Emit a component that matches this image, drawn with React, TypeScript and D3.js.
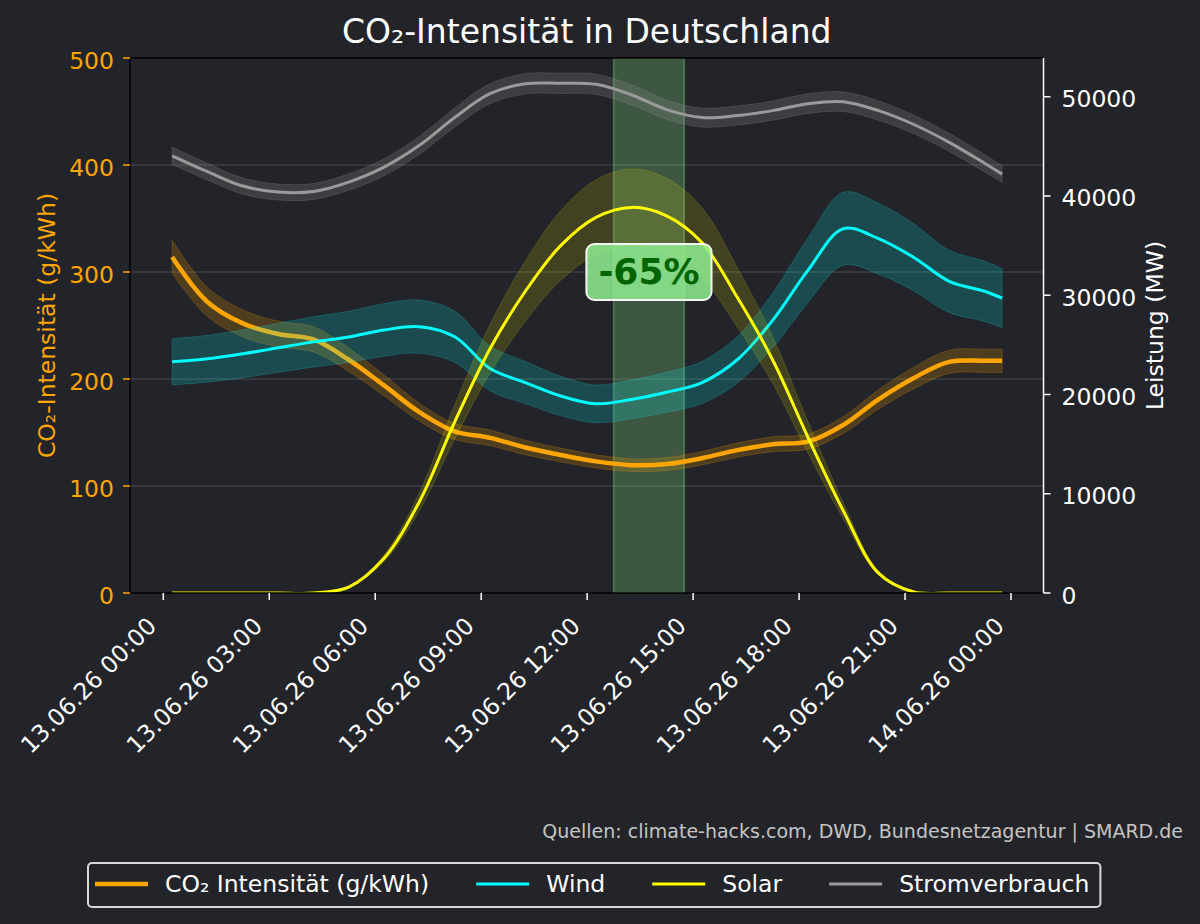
import { useEffect, useRef } from "react";
import * as d3 from "d3";

const BG = "#232429";
const FONT = "'DejaVu Sans', sans-serif";

// hours since 13.06.26 00:00
const hours = [0.25, 1.25, 2.25, 3.25, 4.25, 5.25, 6.25, 7.25, 8.25, 9.25, 10.25, 11.25, 12.25, 13.25, 14.25, 15.25, 16.25, 17.25, 18.25, 19.25, 20.25, 21.25, 22.25, 23.25, 23.75];
const co2 = [314, 272, 252, 242, 237, 218, 194, 169, 151, 145, 136, 129, 123, 119.5, 120.5, 126, 133.5, 139, 141.5, 157, 181, 201, 216, 217, 217];
const wind = [23290, 23600, 24100, 24700, 25300, 25800, 26500, 26830, 25820, 22620, 21200, 19850, 19060, 19500, 20230, 21200, 23500, 27460, 32500, 36700, 35700, 33800, 31400, 30400, 29700];
const solar = [0, 0, 0, 0, 0, 600, 3500, 9200, 17230, 24600, 30400, 35000, 37850, 38850, 38000, 35300, 29800, 23500, 15700, 8300, 2000, 100, 0, 0, 0];
const load = [44050, 42450, 41000, 40400, 40450, 41400, 42900, 45100, 47900, 50300, 51300, 51350, 51250, 50200, 48700, 47900, 48100, 48600, 49300, 49500, 48600, 47200, 45400, 43300, 42200];

// relative spread of the shaded bands
const co2Spread = 0.05;
const windSpread = 0.1;
const solarSpread = 0.1;
const loadSpread = 0.02;

const xTickHours = [0, 3, 6, 9, 12, 15, 18, 21, 24];
const xTickLabels = ["13.06.26 00:00", "13.06.26 03:00", "13.06.26 06:00", "13.06.26 09:00", "13.06.26 12:00", "13.06.26 15:00", "13.06.26 18:00", "13.06.26 21:00", "14.06.26 00:00"];
const leftTicks = [0, 100, 200, 300, 400, 500];
const rightTicks = [0, 10000, 20000, 30000, 40000, 50000];

const lowCo2Window = [12.75, 14.75];
const reductionLabel = "-65%";
const reductionAt = 300;

const legendLabels = ["CO₂ Intensität (g/kWh)", "Wind", "Solar", "Stromverbrauch"];

export default function App() {
  const svgRef = useRef<SVGSVGElement>(null);

  useEffect(() => {
    document.body.style.margin = "0";
    document.body.style.background = BG;
    if (!svgRef.current) return;
    const svg = d3.select(svgRef.current);
    svg.selectAll("*").remove();

    const width = 1200;
    const height = 924;
    const plot = { left: 130, right: 1043.5, top: 58, bottom: 593 };
    const fs = 23.5;

    const x = d3.scaleLinear().domain([-0.943, 24.92]).range([plot.left, plot.right]);
    const yL = d3.scaleLinear().domain([0, 500]).range([plot.bottom, plot.top]);
    const yR = d3.scaleLinear().domain([0, 53900]).range([plot.bottom, plot.top]);

    svg.attr("viewBox", `0 0 ${width} ${height}`).attr("font-family", FONT);
    svg.append("rect").attr("width", width).attr("height", height).attr("fill", BG);

    svg.append("defs").append("clipPath").attr("id", "plot-clip")
      .append("rect")
      .attr("x", plot.left).attr("y", plot.top)
      .attr("width", plot.right - plot.left).attr("height", plot.bottom - plot.top);

    // grid
    svg.append("g").selectAll("line")
      .data(leftTicks.filter((v) => v > 0 && v < 500))
      .join("line")
      .attr("x1", plot.left).attr("x2", plot.right)
      .attr("y1", (d) => yL(d)).attr("y2", (d) => yL(d))
      .attr("stroke", "#8a8a8a").attr("stroke-opacity", 0.38).attr("stroke-width", 1.2);

    const g = svg.append("g").attr("clip-path", "url(#plot-clip)");

    // low-CO2 window
    g.append("rect")
      .attr("x", x(lowCo2Window[0])).attr("y", plot.top)
      .attr("width", x(lowCo2Window[1]) - x(lowCo2Window[0]))
      .attr("height", plot.bottom - plot.top)
      .attr("fill", "#90ee90").attr("fill-opacity", 0.25)
      .attr("stroke", "#90ee90").attr("stroke-opacity", 0.35).attr("stroke-width", 1.5);

    const series = [
      { values: co2, spread: co2Spread, y: yL, color: "#ffa500", width: 4.5, bandAlpha: 0.2 },
      { values: wind, spread: windSpread, y: yR, color: "#00ffff", width: 3, bandAlpha: 0.18 },
      { values: solar, spread: solarSpread, y: yR, color: "#ffff00", width: 3, bandAlpha: 0.14 },
      { values: load, spread: loadSpread, y: yR, color: "#9a9a9a", width: 3, bandAlpha: 0.22 },
    ];

    series.forEach((s) => {
      const pts = hours.map((h, i) => ({ h, v: s.values[i] }));
      const band = d3.area<{ h: number; v: number }>()
        .x((d) => x(d.h))
        .y0((d) => s.y(d.v * (1 - s.spread)))
        .y1((d) => s.y(d.v * (1 + s.spread)))
        .curve(d3.curveCatmullRom);
      g.append("path").datum(pts).attr("d", band)
        .attr("fill", s.color).attr("fill-opacity", s.bandAlpha)
        .attr("stroke", s.color).attr("stroke-opacity", s.bandAlpha).attr("stroke-width", 1);
      const line = d3.line<{ h: number; v: number }>()
        .x((d) => x(d.h))
        .y((d) => s.y(d.v))
        .curve(d3.curveCatmullRom);
      g.append("path").datum(pts).attr("d", line)
        .attr("fill", "none").attr("stroke", s.color)
        .attr("stroke-width", s.width).attr("stroke-linejoin", "round");
    });

    // annotation box
    const ann = svg.append("g");
    const cx = x((lowCo2Window[0] + lowCo2Window[1]) / 2);
    const cy = yL(reductionAt);
    const annText = ann.append("text")
      .attr("x", cx).attr("y", cy + 12)
      .attr("text-anchor", "middle")
      .attr("font-size", 36).attr("font-weight", "bold")
      .attr("fill", "#006400")
      .text(reductionLabel);
    const tw = (annText.node() as SVGTextElement).getComputedTextLength();
    ann.insert("rect", "text")
      .attr("x", cx - tw / 2 - 12).attr("y", cy - 28)
      .attr("width", tw + 24).attr("height", 56)
      .attr("rx", 8)
      .attr("fill", "#90ee90").attr("fill-opacity", 0.85)
      .attr("stroke", "#f4f4f4").attr("stroke-width", 2);

    // spines
    const sp = svg.append("g");
    sp.append("line").attr("x1", plot.left).attr("x2", plot.right).attr("y1", plot.top).attr("y2", plot.top).attr("stroke", "#000").attr("stroke-width", 1.5);
    sp.append("line").attr("x1", plot.left).attr("x2", plot.right).attr("y1", plot.bottom).attr("y2", plot.bottom).attr("stroke", "#000").attr("stroke-width", 1.5);
    sp.append("line").attr("x1", plot.left).attr("x2", plot.left).attr("y1", plot.top).attr("y2", plot.bottom).attr("stroke", "#000").attr("stroke-width", 1.5);
    sp.append("line").attr("x1", plot.right).attr("x2", plot.right).attr("y1", plot.top).attr("y2", plot.bottom).attr("stroke", "#fff").attr("stroke-width", 1.5);

    // left axis
    const la = svg.append("g");
    leftTicks.forEach((v) => {
      la.append("line").attr("x1", plot.left - 7).attr("x2", plot.left).attr("y1", yL(v)).attr("y2", yL(v)).attr("stroke", "#ffa500").attr("stroke-width", 1.5);
      la.append("text").attr("x", plot.left - 16).attr("y", yL(v) + 10.5).attr("text-anchor", "end").attr("font-size", fs).attr("fill", "#ffa500").text(String(v));
    });
    la.append("text")
      .attr("transform", `translate(55,${(plot.top + plot.bottom) / 2}) rotate(-90)`)
      .attr("text-anchor", "middle").attr("font-size", fs).attr("fill", "#ffa500")
      .text("CO₂-Intensität (g/kWh)");

    // right axis
    const ra = svg.append("g");
    rightTicks.forEach((v) => {
      ra.append("line").attr("x1", plot.right).attr("x2", plot.right + 7).attr("y1", yR(v)).attr("y2", yR(v)).attr("stroke", "#fff").attr("stroke-width", 1.5);
      ra.append("text").attr("x", plot.right + 18).attr("y", yR(v) + 10.5).attr("font-size", fs).attr("fill", "#fff").text(String(v));
    });
    ra.append("text")
      .attr("transform", `translate(1163,${(plot.top + plot.bottom) / 2}) rotate(-90)`)
      .attr("text-anchor", "middle").attr("font-size", fs).attr("fill", "#fff")
      .text("Leistung (MW)");

    // bottom axis
    const ba = svg.append("g");
    xTickHours.forEach((h, i) => {
      ba.append("line").attr("x1", x(h)).attr("x2", x(h)).attr("y1", plot.bottom).attr("y2", plot.bottom + 7).attr("stroke", "#fff").attr("stroke-width", 1.5);
      ba.append("text")
        .attr("transform", `translate(${x(h) - 5.5},627.5) rotate(-45)`)
        .attr("text-anchor", "end").attr("font-size", fs).attr("fill", "#fff")
        .text(xTickLabels[i]);
    });

    // title and source
    svg.append("text").attr("x", (plot.left + plot.right) / 2).attr("y", 43)
      .attr("text-anchor", "middle").attr("font-size", 33).attr("fill", "#fff")
      .text("CO₂-Intensität in Deutschland");
    svg.append("text").attr("x", 1183).attr("y", 838)
      .attr("text-anchor", "end").attr("font-size", 19).attr("fill", "#c4c4c4")
      .text("Quellen: climate-hacks.com, DWD, Bundesnetzagentur | SMARD.de");

    // legend
    const lg = svg.append("g");
    const frame = lg.append("rect");
    let lx = 95;
    const ly = 884;
    series.forEach((s, i) => {
      lg.append("line").attr("x1", lx).attr("x2", lx + 53).attr("y1", ly).attr("y2", ly)
        .attr("stroke", s.color).attr("stroke-width", s.width);
      const t = lg.append("text").attr("x", lx + 70).attr("y", ly + 8)
        .attr("font-size", fs).attr("fill", "#fff").text(legendLabels[i]);
      const w = (t.node() as SVGTextElement).getComputedTextLength();
      lx = lx + 70 + w + (i < series.length - 1 ? 47 : 11);
    });
    frame.attr("x", 88).attr("y", 863).attr("width", lx - 88).attr("height", 44)
      .attr("rx", 4).attr("fill", BG).attr("stroke", "#d8d8d8").attr("stroke-width", 2);
  }, []);

  return <svg ref={svgRef} width={1200} height={924} style={{ display: "block" }} />;
}
